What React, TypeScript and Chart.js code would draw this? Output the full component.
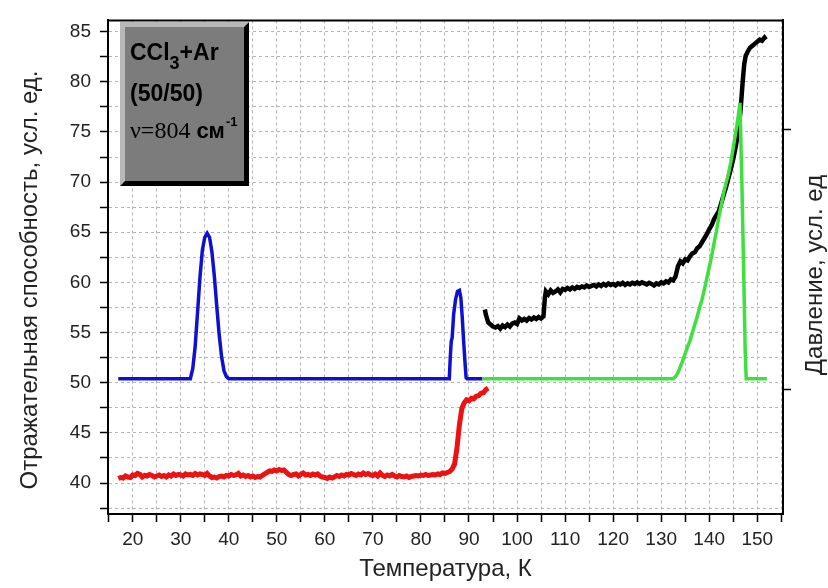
import React, { useEffect, useRef } from "react";
import { Chart, registerables } from "chart.js";

Chart.register(...registerables);

// ---- axes ----
const X_MIN = 14.86;
const X_MAX = 155.36;
const Y_MIN = 36.91;
const Y_MAX = 86.12;
const X_TICKS = [15, 20, 25, 30, 35, 40, 45, 50, 55, 60, 65, 70, 75, 80, 85, 90, 95, 100, 105, 110, 115, 120, 125, 130, 135, 140, 145, 150, 155];
const X_LABELS = [20, 30, 40, 50, 60, 70, 80, 90, 100, 110, 120, 130, 140, 150];
const Y_TICKS = [37.5, 40, 42.5, 45, 47.5, 50, 52.5, 55, 57.5, 60, 62.5, 65, 67.5, 70, 72.5, 75, 77.5, 80, 82.5, 85];
const Y_LABELS = [40, 45, 50, 55, 60, 65, 70, 75, 80, 85];
const Y2_MIN = -0.48;
const Y2_MAX = 1.42;
const Y2_TICKS = [0, 1];

// ---- series ----
const BLUE_T = [17, 32, 32.5, 33, 33.5, 34, 34.5, 35, 35.5, 36, 36.5, 37, 37.5, 38, 38.5, 39, 39.5, 40, 85.9, 86.1, 86.3, 86.5, 86.8, 87.2, 87.6, 88.0, 88.3, 88.6, 88.9, 89.2, 89.4, 89.6, 92.8];
const BLUE_R = [50.4, 50.4, 51.4, 53.6, 57.0, 60.5, 63.2, 64.5, 64.9, 64.5, 63.0, 60.6, 57.6, 54.8, 52.6, 51.2, 50.6, 50.4, 50.4, 52.5, 54.1, 54.5, 56.8, 58.3, 59.1, 59.2, 58.5, 56.5, 54.0, 51.8, 50.5, 50.4, 50.4];

const RED_T = [
  17, 17.5, 18, 18.5, 19, 19.5, 20, 20.5, 21, 21.5,
  22, 22.5, 23, 23.5, 24, 24.5, 25, 25.5, 26, 26.5,
  27, 27.5, 28, 28.5, 29, 29.5, 30, 30.5, 31, 31.5,
  32, 32.5, 33, 33.5, 34, 34.5, 35, 35.5, 36, 36.5,
  37, 37.5, 38, 38.5, 39, 39.5, 40, 40.5, 41, 41.5,
  42, 42.5, 43, 43.5, 44, 44.5, 45, 45.5, 46, 46.5,
  47, 47.5, 48, 48.5, 49, 49.5, 50, 50.5, 51, 51.5,
  52, 52.5, 53, 53.5, 54, 54.5, 55, 55.5, 56, 56.5,
  57, 57.5, 58, 58.5, 59, 59.5, 60, 60.5, 61, 61.5,
  62, 62.5, 63, 63.5, 64, 64.5, 65, 65.5, 66, 66.5,
  67, 67.5, 68, 68.5, 69, 69.5, 70, 70.5, 71, 71.5,
  72, 72.5, 73, 73.5, 74, 74.5, 75, 75.5, 76, 76.5,
  77, 77.5, 78, 78.5, 79, 79.5, 80, 80.5, 81, 81.5,
  82, 82.5, 83, 83.5, 84, 84.5, 85, 85.5, 86,
  86.5, 87, 87.5, 88, 88.5, 89, 89.5, 90, 90.5, 91, 91.5, 92, 92.5, 93, 93.5, 94,
];
const RED_R = [
  40.45, 40.55, 40.5, 40.7, 40.6, 40.55, 40.8, 40.75, 40.95, 40.85,
  40.6, 40.75, 40.7, 40.85, 40.75, 40.6, 40.7, 40.8, 40.65, 40.75,
  40.6, 40.8, 40.7, 40.9, 40.75, 40.85, 40.8, 40.7, 40.9, 40.8,
  40.85, 40.75, 40.95, 40.8, 40.9, 40.85, 40.75, 40.95, 40.7, 40.55,
  40.6, 40.5, 40.65, 40.7, 40.6, 40.75, 40.7, 40.85, 40.75, 40.8,
  40.95, 40.7, 40.8, 40.65, 40.75, 40.6, 40.7, 40.55, 40.65, 40.6,
  40.75, 40.9, 41.05, 41.2, 41.15, 41.3, 41.2, 41.35, 41.25, 41.3,
  41.05, 40.85, 40.75, 40.85, 40.9, 40.7, 40.85, 41.0, 40.8, 40.85,
  40.75, 40.9, 40.8, 40.9, 40.7, 40.6, 40.55, 40.45, 40.6, 40.5,
  40.6, 40.75, 40.65, 40.8, 40.7, 40.85, 40.8, 40.95, 40.85, 40.75,
  40.9, 40.8, 41.0, 40.85, 40.95, 40.8, 40.75, 40.9, 40.7, 41.0,
  40.75, 40.65, 40.8, 40.7, 40.85, 40.7, 40.6, 40.75, 40.65, 40.6,
  40.7, 40.55, 40.65, 40.7, 40.75, 40.7, 40.8, 40.75, 40.85, 40.75,
  40.8, 40.85, 40.8, 40.9, 40.85, 41.0, 40.95, 41.05, 41.15,
  41.4, 41.9, 43.5, 45.8, 47.4, 48.0, 48.3, 48.2, 48.45, 48.4, 48.65, 48.7, 48.95, 49.0, 49.3, 49.45,
];

const BLACK_T = [
  93.3, 93.5, 94, 94.5, 95, 95.5, 96, 96.5, 97, 97.5,
  98, 98.5, 99, 99.5, 100, 100.5, 101, 101.5, 102, 102.5,
  103, 103.5, 104, 104.5, 105, 105.5, 105.8, 106, 106.5, 107,
  107.5, 108, 108.5, 109, 109.5, 110, 110.5, 111, 111.5, 112,
  112.5, 113, 113.5, 114, 114.5, 115, 115.5, 116, 116.5, 117,
  117.5, 118, 118.5, 119, 119.5, 120, 120.5, 121, 121.5, 122,
  122.5, 123, 123.5, 124, 124.5, 125, 125.5, 126, 126.5, 127,
  127.5, 128, 128.5, 129, 129.5, 130, 130.5, 131, 131.5, 132,
  132.5, 133, 133.5, 134, 134.5, 135, 135.5, 136, 136.5, 137,
  137.5, 138, 138.5, 139, 139.5, 140, 140.5, 141, 141.5, 142,
  142.5, 143, 143.5, 144, 144.5, 145, 145.5, 146, 146.5, 147,
  147.3, 147.6, 148, 148.5, 149, 149.5, 150, 150.5, 151, 151.5,
  151.8,
];
const BLACK_P = [
  57.3, 56.8, 56.0, 55.8, 55.6, 55.5, 55.65, 55.4, 55.7, 55.55,
  55.8, 55.6, 55.9, 56.0, 55.85, 56.4, 56.2, 56.35, 56.2, 56.45,
  56.3, 56.5, 56.35, 56.55, 56.4, 56.6, 58.5, 59.1, 58.8, 59.2,
  58.95, 59.1, 59.3, 59.0, 59.35, 59.25, 59.45, 59.3, 59.5, 59.35,
  59.55, 59.45, 59.6, 59.5, 59.7, 59.55, 59.65, 59.75, 59.6, 59.8,
  59.65, 59.85, 59.7, 59.9, 59.75, 59.85, 59.7, 59.9, 59.8, 59.95,
  59.75, 59.9, 59.8, 59.95, 59.85, 60.0, 59.85, 60.0, 59.9, 59.8,
  59.95, 59.85, 59.7, 59.9, 59.8, 60.0, 59.9, 60.1, 60.0, 60.3,
  60.2, 60.6, 61.6, 62.1, 61.9, 62.3, 62.2, 62.6, 62.9, 63.0,
  63.4, 63.6, 64.0, 64.4, 64.8, 65.3, 65.7, 66.3, 66.7, 67.1,
  67.9, 68.7, 69.5, 70.4, 71.3, 72.3, 73.5, 74.9, 77.0, 80.2,
  81.8, 82.6, 83.0, 83.4, 83.6, 83.8, 84.0, 84.2, 84.1, 84.4,
  84.2,
];

const GREEN_T = [92.8, 132.5, 133, 133.5, 134, 134.5, 135, 135.5, 136, 136.5, 137, 137.5, 138, 138.5, 139, 139.5, 140, 140.5, 141, 141.5, 142, 142.5, 143, 143.5, 144, 144.5, 145, 145.5, 146, 146.4, 146.8, 147.2, 147.5, 147.7, 152];
const GREEN_P = [50.4, 50.4, 50.6, 51.0, 51.6, 52.2, 52.9, 53.6, 54.2, 55.0, 55.8, 56.6, 57.5, 58.3, 59.3, 60.4, 61.5, 62.6, 63.9, 65.1, 66.5, 67.7, 68.9, 69.9, 70.8, 72.0, 73.4, 74.9, 76.4, 77.9, 70.0, 60.5, 53.0, 50.4, 50.4];

const TITLE_X = "Температура, К";
const TITLE_Y = "Отражательная способность, усл. ед.";
const TITLE_Y2 = "Давление, усл. ед";

const SANS = '"Liberation Sans", Arial, sans-serif';
const SERIF = '"Liberation Serif", "Times New Roman", serif';

const pts = (xs: number[], ys: number[]) => xs.map((x, i) => ({ x, y: ys[i] }));

const decorPlugin = {
  id: "decor",
  afterDraw(chart: any) {
    const { ctx, chartArea: a } = chart;
    ctx.save();
    // top frame line
    ctx.strokeStyle = "#000";
    ctx.lineWidth = 2;
    ctx.beginPath();
    ctx.moveTo(a.left, a.top);
    ctx.lineTo(a.right, a.top);
    ctx.stroke();

    // vertical axis titles
    ctx.fillStyle = "#222";
    ctx.font = `24px ${SANS}`;
    ctx.textAlign = "center";
    ctx.textBaseline = "middle";
    ctx.save();
    ctx.translate(30, 280);
    ctx.rotate(-Math.PI / 2);
    ctx.fillText(TITLE_Y, 0, 0);
    ctx.restore();
    ctx.save();
    ctx.translate(815, 275);
    ctx.rotate(-Math.PI / 2);
    ctx.fillText(TITLE_Y2, 0, 0);
    ctx.restore();

    // info box with bevel
    const L = 120, T = 22, R = 249, B = 186, e = 5;
    ctx.fillStyle = "#b8b8b8";
    ctx.beginPath();
    ctx.moveTo(L, T); ctx.lineTo(R, T); ctx.lineTo(R - e, T + e); ctx.lineTo(L + e, T + e);
    ctx.lineTo(L + e, B - e); ctx.lineTo(L, B); ctx.closePath();
    ctx.fill();
    ctx.fillStyle = "#000";
    ctx.beginPath();
    ctx.moveTo(R, T); ctx.lineTo(R, B); ctx.lineTo(L, B); ctx.lineTo(L + e, B - e);
    ctx.lineTo(R - e, B - e); ctx.lineTo(R - e, T + e); ctx.closePath();
    ctx.fill();
    ctx.fillStyle = "#7c7c7c";
    ctx.fillRect(L + e, T + e, R - L - 2 * e, B - T - 2 * e);

    ctx.fillStyle = "#000";
    ctx.textAlign = "left";
    ctx.textBaseline = "alphabetic";
    let x = 130;
    ctx.font = `bold 23px ${SANS}`;
    ctx.fillText("CCl", x, 60);
    x += ctx.measureText("CCl").width;
    ctx.font = `bold 18px ${SANS}`;
    ctx.fillText("3", x, 69);
    x += ctx.measureText("3").width;
    ctx.font = `bold 23px ${SANS}`;
    ctx.fillText("+Ar", x, 60);

    ctx.fillText("(50/50)", 130, 101);

    x = 130;
    ctx.font = `24px ${SERIF}`;
    ctx.fillText("ν=804", x, 138);
    x += ctx.measureText("ν=804 ").width;
    ctx.font = `bold 22px ${SANS}`;
    ctx.fillText("см", x, 138);
    x += ctx.measureText("см").width + 1;
    ctx.font = `bold 13px ${SANS}`;
    ctx.fillText("-1", x, 126);
    ctx.restore();
  },
};

export default function App() {
  const ref = useRef<HTMLCanvasElement | null>(null);
  useEffect(() => {
    if (!ref.current) return;
    const gridDash = (c: any) => {
      if (!c.tick) return [];
      return [3, 3];
    };
    const chart = new Chart(ref.current, {
      type: "line",
      data: {
        datasets: [
          { label: "green", data: pts(GREEN_T, GREEN_P), borderColor: "#3ee03e", borderWidth: 3.5, pointRadius: 0, yAxisID: "y", order: 0 },
          { label: "black", data: pts(BLACK_T, BLACK_P), borderColor: "#000000", borderWidth: 4.5, pointRadius: 0, yAxisID: "y", order: 1 },
          { label: "red", data: pts(RED_T, RED_R), borderColor: "#ee1111", borderWidth: 5, pointRadius: 0, yAxisID: "y", order: 2 },
          { label: "blue", data: pts(BLUE_T, BLUE_R), borderColor: "#1010d0", borderWidth: 3.5, pointRadius: 0, yAxisID: "y", order: 3 },
        ],
      },
      options: {
        animation: false,
        responsive: false,
        layout: { padding: { top: 15, left: 0, right: 0, bottom: 0 } },
        plugins: { legend: { display: false }, tooltip: { enabled: false } },
        elements: { line: { tension: 0 } },
        scales: {
          x: {
            type: "linear",
            position: "bottom",
            min: X_MIN,
            max: X_MAX,
            afterBuildTicks: (s: any) => { s.ticks = X_TICKS.map((v) => ({ value: v })); },
            afterFit: (s: any) => { s.height = 74; },
            ticks: {
              autoSkip: false,
              maxRotation: 0,
              padding: 6,
              color: "#222",
              font: { family: SANS, size: 19 },
              callback: (v: any) => (X_LABELS.includes(Number(v)) ? String(v) : ""),
            },
            grid: { color: "#b4b4b4", lineWidth: 1, tickColor: "#000", tickLength: 8, tickWidth: 1.5 },
            border: { color: "#000", width: 2, dash: gridDash },
            title: { display: true, text: TITLE_X, color: "#222", font: { family: SANS, size: 24 }, padding: { top: 0, bottom: 4 } },
          },
          y: {
            type: "linear",
            position: "left",
            min: Y_MIN,
            max: Y_MAX,
            afterBuildTicks: (s: any) => { s.ticks = Y_TICKS.map((v) => ({ value: v })); },
            afterFit: (s: any) => { s.width = 108; },
            ticks: {
              autoSkip: false,
              padding: 9,
              color: "#222",
              font: { family: SANS, size: 19 },
              callback: (v: any) => (Y_LABELS.includes(Number(v)) ? String(v) : ""),
            },
            grid: { color: "#b4b4b4", lineWidth: 1, tickColor: "#000", tickLength: 8, tickWidth: 1.5 },
            border: { color: "#000", width: 2, dash: gridDash },
          },
          y2: {
            type: "linear",
            position: "right",
            min: Y2_MIN,
            max: Y2_MAX,
            afterBuildTicks: (s: any) => { s.ticks = Y2_TICKS.map((v) => ({ value: v })); },
            afterFit: (s: any) => { s.width = 45; },
            ticks: { callback: () => "", padding: 0 },
            grid: { drawOnChartArea: false, tickColor: "#000", tickLength: 8, tickWidth: 1.5 },
            border: { color: "#000", width: 2 },
          },
        },
      },
      plugins: [decorPlugin],
    });
    return () => chart.destroy();
  }, []);
  return (
    <canvas
      ref={ref}
      width={828}
      height={588}
      style={{ position: "absolute", left: 0, top: 0, width: 828, height: 588 }}
    />
  );
}
